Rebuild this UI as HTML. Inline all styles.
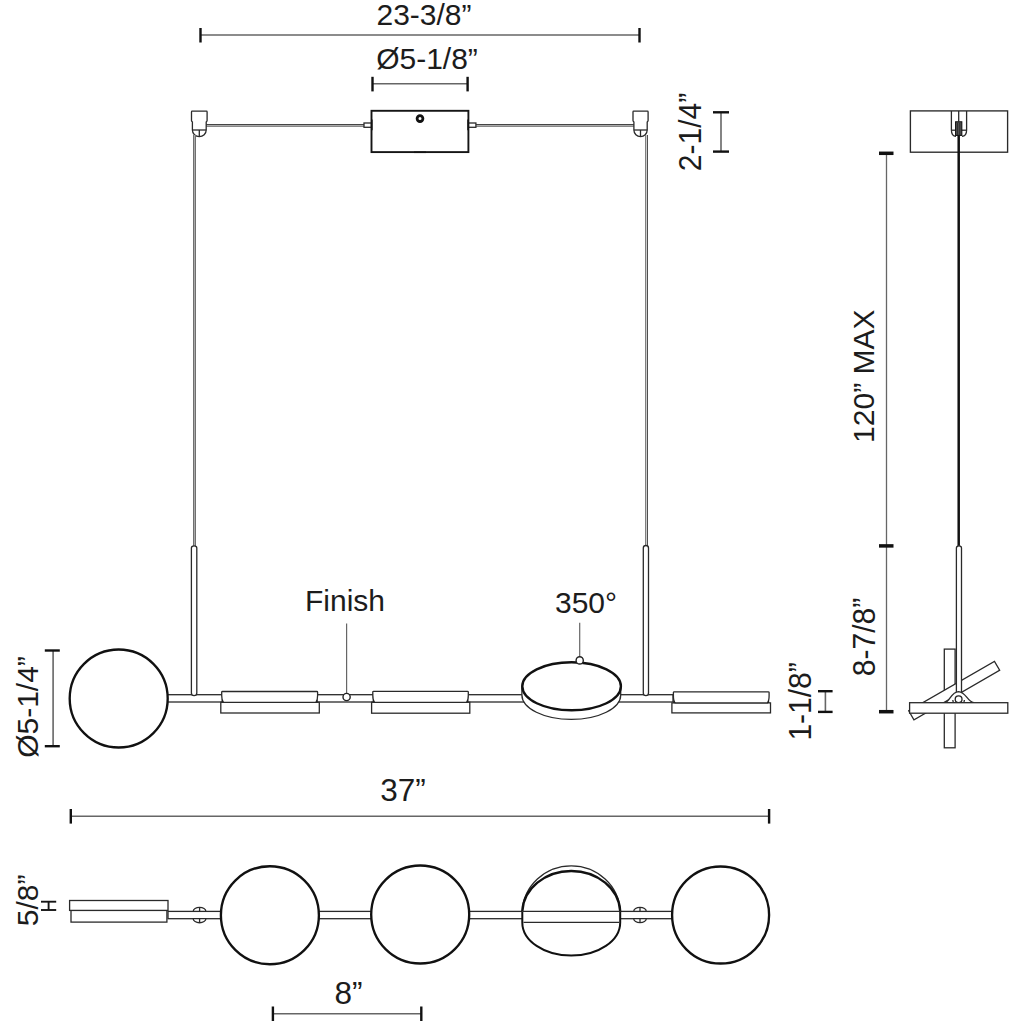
<!DOCTYPE html>
<html><head><meta charset="utf-8">
<style>
html,body{margin:0;padding:0;background:#fff;width:1024px;height:1024px;overflow:hidden}
svg{display:block}
text{font-family:"Liberation Sans",sans-serif;fill:#1c1c1c}
.dl{stroke:#666;stroke-width:1.6;fill:none}
.tk{stroke:#111;stroke-width:2.4;fill:none}
.o{stroke:#2a2a2a;stroke-width:1.3;fill:#fff}
.on{stroke:#2a2a2a;stroke-width:1.3;fill:none}
.disc{stroke:#111;stroke-width:2.35;fill:#fff}
</style></head><body>
<svg width="1024" height="1024" viewBox="0 0 1024 1024">
<!-- top dimension 23-3/8 -->
<text x="424" y="24.6" font-size="30" text-anchor="middle">23-3/8”</text>
<line class="dl" x1="200.5" y1="35" x2="639.5" y2="35"/>
<line class="tk" x1="200.5" y1="28" x2="200.5" y2="42.5"/>
<line class="tk" x1="639.5" y1="28" x2="639.5" y2="42.5"/>
<!-- 5-1/8 -->
<text x="427" y="69.2" font-size="30" text-anchor="middle">Ø5-1/8”</text>
<line class="dl" x1="372.5" y1="83.8" x2="467.6" y2="83.8"/>
<line class="tk" x1="372.5" y1="76.8" x2="372.5" y2="91.4"/>
<line class="tk" x1="467.6" y1="76.8" x2="467.6" y2="91.4"/>

<!-- wires top -->
<rect x="206" y="124" width="158" height="3" fill="#aaa"/><path d="M206,124.5 H364" stroke="#444" stroke-width="1"/><path d="M206,126.5 H364" stroke="#888" stroke-width="1"/>
<rect x="476" y="124" width="158" height="3" fill="#aaa"/><path d="M476,124.5 H634" stroke="#444" stroke-width="1"/><path d="M476,126.5 H634" stroke="#888" stroke-width="1"/>
<rect x="364" y="123" width="7.5" height="4.3" class="o"/>
<rect x="468.4" y="123" width="7.5" height="4.3" class="o"/>
<!-- canopy -->
<rect class="o" x="371.5" y="110.8" width="96.9" height="41.3" style="stroke-width:1.9;stroke:#151515"/>
<circle cx="420" cy="118.6" r="2.9" fill="#fff" stroke="#111" stroke-width="2.8"/>
<line x1="371.8" y1="119.5" x2="371.8" y2="130.3" stroke="#111" stroke-width="1.6"/>
<line x1="468.1" y1="119.5" x2="468.1" y2="130.3" stroke="#111" stroke-width="1.6"/>
<line x1="414" y1="152.3" x2="426" y2="152.3" stroke="#111" stroke-width="1.5"/>

<!-- left clip -->
<path class="o" d="M192.1,111.2 H206.5 Q207.1,111.2 207.1,112 V120.5 Q207.1,121.2 206.2,122 V130 A6.90,6.7 0 0 1 192.4,130 V122 Q191.5,121.2 191.5,120.5 V112 Q191.5,111.2 192.1,111.2 Z"/>
<line class="on" x1="192.4" y1="130" x2="206.2" y2="130"/>
<line class="on" x1="199.3" y1="130" x2="199.3" y2="136.7"/>
<!-- right clip -->
<path class="o" d="M633.6,111.2 H647.5 Q648.1,111.2 648.1,112 V120.5 Q648.1,121.2 647.2,122 V130 A6.65,6.7 0 0 1 633.9,130 V122 Q633,121.2 633,120.5 V112 Q633,111.2 633.6,111.2 Z"/>
<line class="on" x1="633.9" y1="130" x2="647.2" y2="130"/>
<line class="on" x1="640.5" y1="130" x2="640.5" y2="136.7"/>
<!-- cables -->
<rect x="193" y="135" width="3" height="411" fill="#aaa"/><path d="M193.5,135 V546 M195.5,135 V546" stroke="#707070" stroke-width="1"/>
<rect x="645" y="135" width="3" height="411" fill="#ccc"/><path d="M645.5,135 V546" stroke="#808080" stroke-width="1"/><path d="M647.5,135 V546" stroke="#505050" stroke-width="1"/>

<!-- 2-1/4 -->
<text transform="translate(700.5,132) rotate(-90) scale(1,1.06)" font-size="30" text-anchor="middle">2-1/4”</text>
<line class="dl" x1="721" y1="112.3" x2="721" y2="151.6"/>
<line class="tk" x1="713" y1="112.3" x2="729" y2="112.3"/>
<line class="tk" x1="713" y1="151.6" x2="729" y2="151.6"/>

<!-- front fixture: arm -->
<rect class="o" x="160" y="694.7" width="513" height="7.3"/>
<!-- rods -->
<path class="o" d="M191.4,693 V548 Q191.4,545.8 194.1,545.8 Q196.8,545.8 196.8,548 V693 Q196.8,695.6 194.1,695.6 Q191.4,695.6 191.4,693 Z"/>
<path class="o" d="M643.3,693 V548 Q643.3,545.5 645.9,545.5 Q648.5,545.5 648.5,548 V693 Q648.5,695.6 645.9,695.6 Q643.3,695.6 643.3,693 Z"/>
<!-- left disc -->
<circle class="disc" cx="118.7" cy="698.5" r="49"/>
<!-- panels -->
<rect class="o" x="220.8" y="702.3" width="98.5" height="10.7"/>
<path class="o" d="M222.5,691.5 H316.8 Q317.6,691.5 317.6,692.3 V695.5 Q317.6,700.3 316.0,702.3 H223.3 Q221.7,700.3 221.7,695.5 V692.3 Q221.7,691.5 222.5,691.5 Z"/><path d="M221.4,702.3 L223.9,702.3 L221.9,699.5 Z M317.9,702.3 L315.4,702.3 L317.4,699.5 Z" fill="#222"/>
<rect class="o" x="371.6" y="702.3" width="98.2" height="10.9"/>
<path class="o" d="M373.6,691.3 H467.5 Q468.3,691.3 468.3,692.1 V695.3 Q468.3,700.3 466.7,702.3 H374.4 Q372.8,700.3 372.8,695.3 V692.1 Q372.8,691.3 373.6,691.3 Z"/><path d="M372.5,702.3 L375.0,702.3 L373.0,699.5 Z M468.6,702.3 L466.1,702.3 L468.1,699.5 Z" fill="#222"/>
<rect class="o" x="671.9" y="702.9" width="98.6" height="10"/>
<path class="o" d="M674.2,691.8 H768.3 Q769.1,691.8 769.1,692.6 V695.8 Q769.1,700.9 767.5,702.9 H675.0 Q673.4,700.9 673.4,695.8 V692.6 Q673.4,691.8 674.2,691.8 Z"/><path d="M673.1,702.9 L675.6,702.9 L673.6,700.1 Z M769.4,702.9 L766.9,702.9 L768.9,700.1 Z" fill="#222"/>
<!-- finish dot -->
<line class="dl" x1="346.6" y1="623.4" x2="346.6" y2="693.3" style="stroke-width:1.2"/>
<circle cx="346.6" cy="697" r="3.6" fill="#fff" stroke="#222" stroke-width="1.4"/>
<text x="345" y="611.1" font-size="30" text-anchor="middle">Finish</text>
<!-- ellipse disc -->
<path class="o" d="M521.9,686.2 V695 A49.4,24.4 0 0 0 620.7,695 V686.2 Z"/>
<ellipse class="disc" cx="571.6" cy="686.3" rx="49.3" ry="24" style="stroke-width:2.4"/>
<line class="dl" x1="579.7" y1="622.7" x2="579.7" y2="657" style="stroke-width:1.2"/>
<circle cx="579.7" cy="660.4" r="3.6" fill="#fff" stroke="#222" stroke-width="1.4"/>
<text x="586" y="613" font-size="30" text-anchor="middle">350°</text>

<!-- Ø5-1/4 -->
<text transform="translate(37.8,707) rotate(-90)" font-size="30" text-anchor="middle">Ø5-1/4”</text>
<line class="dl" x1="53.1" y1="650.5" x2="53.1" y2="746.2"/>
<line class="tk" x1="44.8" y1="650.5" x2="59.8" y2="650.5"/>
<line class="tk" x1="44.8" y1="746.2" x2="59.8" y2="746.2"/>
<!-- 1-1/8 -->
<text transform="translate(811.4,701.4) rotate(-90) scale(1,1.02)" font-size="30" text-anchor="middle">1-1/8”</text>
<line class="dl" x1="825.4" y1="691.2" x2="825.4" y2="711.9"/>
<line class="tk" x1="818" y1="691.2" x2="832.6" y2="691.2"/>
<line class="tk" x1="818" y1="711.9" x2="832.6" y2="711.9"/>

<!-- side view -->
<rect class="o" x="910.4" y="110.9" width="97.2" height="41.3" style="stroke-width:1.35"/>
<path class="on" d="M951.4,111 V130 Q951.4,136.3 956,136.3 M966.6,111 V130 Q966.6,136.3 962,136.3"/>
<line class="on" x1="951.4" y1="130.2" x2="966.6" y2="130.2"/>
<line class="on" x1="958.7" y1="111" x2="958.7" y2="121.4"/>
<rect x="955.6" y="121.8" width="6.2" height="13.6" fill="#555" stroke="#111" stroke-width="1.1"/><path d="M957.6,123 V135 M959.8,123 V135" stroke="#222" stroke-width="0.8"/>
<line x1="958.7" y1="135.4" x2="958.7" y2="546" stroke="#111" stroke-width="2.5"/>

<!-- 120 MAX dim -->
<line class="dl" x1="886.5" y1="153.3" x2="886.5" y2="711.7" style="stroke-width:1.3"/>
<line class="tk" x1="879" y1="153.3" x2="893.5" y2="153.3" style="stroke-width:3.5"/>
<line class="tk" x1="879" y1="545.9" x2="893.5" y2="545.9" style="stroke-width:3.5"/>
<line class="tk" x1="879" y1="711.7" x2="893.5" y2="711.7" style="stroke-width:3.5"/>
<text transform="translate(874.4,376.2) rotate(-90)" font-size="30" text-anchor="middle">120” MAX</text>
<text transform="translate(875.3,637) rotate(-90) scale(1,1.03)" font-size="30" text-anchor="middle">8-7/8”</text>
<!-- side fixture -->
<rect class="o" x="944.3" y="649.1" width="10.8" height="98.7"/>
<rect class="o" x="904.7" y="685.35" width="99" height="10.4" transform="rotate(-30 954.2 690.55)"/>
<path class="o" d="M956.4,693 V548 Q956.4,545.8 959,545.8 Q961.5,545.8 961.5,548 V693"/>
<path class="o" d="M945,702.7 C950,701.5 951,692 958.6,691.6 C966,692 967,701.5 973.8,702.7 Z"/>
<path class="on" d="M952.8,700 A5.8,5.8 0 0 0 964.4,700"/>
<circle cx="958.6" cy="699.2" r="3.4" fill="#fff" stroke="#222" stroke-width="1.3"/>
<rect class="o" x="909.6" y="702.7" width="98.2" height="10.5"/>

<!-- bottom view -->
<text x="403" y="801.4" font-size="31.5" text-anchor="middle">37”</text>
<line class="dl" x1="70.8" y1="816.3" x2="769.1" y2="816.3"/>
<line class="tk" x1="70.8" y1="809" x2="70.8" y2="823.6"/>
<line class="tk" x1="769.1" y1="809" x2="769.1" y2="823.6"/>

<rect class="o" x="168" y="911.4" width="505" height="7.3"/>
<rect class="o" x="71" y="910.4" width="95.9" height="11.7"/>
<rect class="o" x="69.6" y="900.5" width="98.4" height="9.9"/>
<text transform="translate(37.5,900.4) rotate(-90)" font-size="30" text-anchor="middle">5/8”</text>
<line class="on" x1="48.6" y1="901.7" x2="48.6" y2="910" style="stroke-width:1.9;stroke:#151515"/>
<line class="on" x1="41" y1="901.7" x2="56.2" y2="901.7" style="stroke-width:1.9;stroke:#151515"/>
<line class="on" x1="41" y1="910" x2="56.2" y2="910" style="stroke-width:1.9;stroke:#151515"/>
<!-- joints -->
<path class="o" d="M193.2,911.4 A6.3,4 0 0 1 205.9,911.4 Z M193.2,918.7 A6.3,4 0 0 0 205.9,918.7 Z"/>
<path class="on" d="M199.6,907.4 V911.4 M199.6,918.7 V922.7"/>
<path class="o" d="M633.7,911.4 A6.3,4 0 0 1 646.3,911.4 Z M633.7,918.7 A6.3,4 0 0 0 646.3,918.7 Z"/>
<path class="on" d="M640,907.4 V911.4 M640,918.7 V922.7"/>
<circle class="disc" cx="269.9" cy="915.2" r="49"/>
<circle class="disc" cx="420.2" cy="914.5" r="49"/>
<circle class="disc" cx="720.6" cy="915" r="48.5"/>
<!-- disc 3 -->
<path class="o" d="M522.3,911.3 A49,47.6 0 0 1 620.2,911.3 Z"/>
<path class="disc" d="M522.3,911.3 A49,42.2 0 0 1 620.2,911.3" style="fill:none"/>
<path class="o" d="M522.3,911.5 V922.4 A48.95,33.2 0 0 0 620.2,922.4 V911.5" style="stroke:#111;stroke-width:2"/>
<line class="on" x1="523.5" y1="922.4" x2="619" y2="922.4" style="stroke-width:1.2"/>
<line class="on" x1="522.3" y1="911.5" x2="620.2" y2="911.5" style="stroke-width:1.1"/>

<text x="348.5" y="1004" font-size="31.5" text-anchor="middle">8”</text>
<line class="dl" x1="272.9" y1="1013.7" x2="421.3" y2="1013.7"/>
<line class="tk" x1="272.9" y1="1006.5" x2="272.9" y2="1021"/>
<line class="tk" x1="421.3" y1="1006.5" x2="421.3" y2="1021"/>
</svg>
</body></html>
